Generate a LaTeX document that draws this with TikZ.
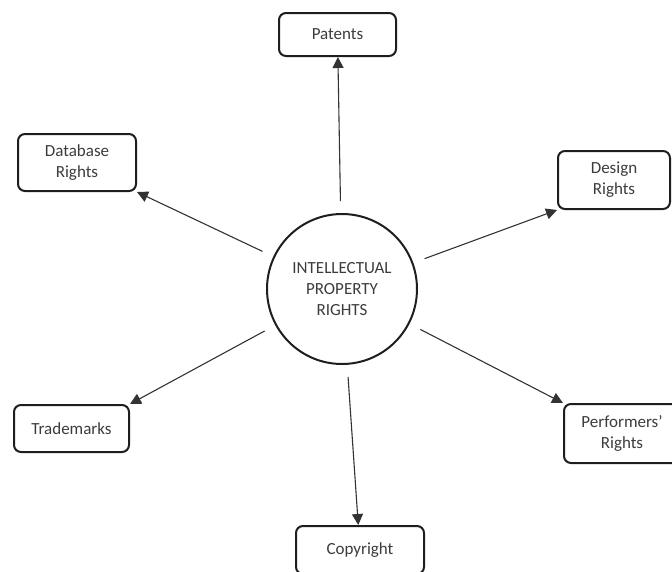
\documentclass[tikz,border=0pt]{standalone}
\usepackage{fontspec}
\setmainfont{Carlito}
\usetikzlibrary{arrows.meta}
\definecolor{txt}{HTML}{3C3C3C}
\definecolor{edge}{HTML}{1E1E1E}
\definecolor{arrowc}{HTML}{333333}
\begin{document}
\begin{tikzpicture}[x=1pt,y=-1pt,
  lbl/.style={text=txt, font=\fontsize{17}{21}\selectfont, align=center},
  box/.style={lbl, draw=edge, line width=2pt, rounded corners=7pt, inner sep=0pt},
  arr/.style={draw=arrowc, line width=1.1pt, -{Triangle[length=11pt,width=11pt]}, shorten <=12pt}]
\useasboundingbox (0,0) rectangle (672,571);
\clip (0,0) rectangle (672,571);
\node[lbl, circle, draw=edge, line width=2pt, minimum size=150pt, inner sep=0pt] (c) at (342,289) {INTELLECTUAL\\PROPERTY\\RIGHTS};
\node[box, minimum width=117pt, minimum height=43pt] (pat) at (337.5,34.5) {Patents};
\node[box, minimum width=118pt, minimum height=57pt] (db) at (77,162.5) {Database\\Rights};
\node[box, minimum width=112pt, minimum height=58pt] (des) at (614,180) {Design\\Rights};
\node[box, minimum width=115pt, minimum height=47pt] (tm) at (71.5,428.5) {Trademarks};
\node[box, minimum width=116pt, minimum height=59pt] (perf) at (622,433.5) {Performers'\\Rights};
\node[box, minimum width=128pt, minimum height=48pt] (copy) at (360,550) {Copyright};
\draw[arr] (c) -- (pat);
\draw[arr] (c) -- (db.south east);
\draw[arr] (c) -- (des.south west);
\draw[arr] (c) -- (tm.north east);
\draw[arr] (c) -- (perf.north west);
\draw[arr] (c) -- (copy);
\end{tikzpicture}
\end{document}
